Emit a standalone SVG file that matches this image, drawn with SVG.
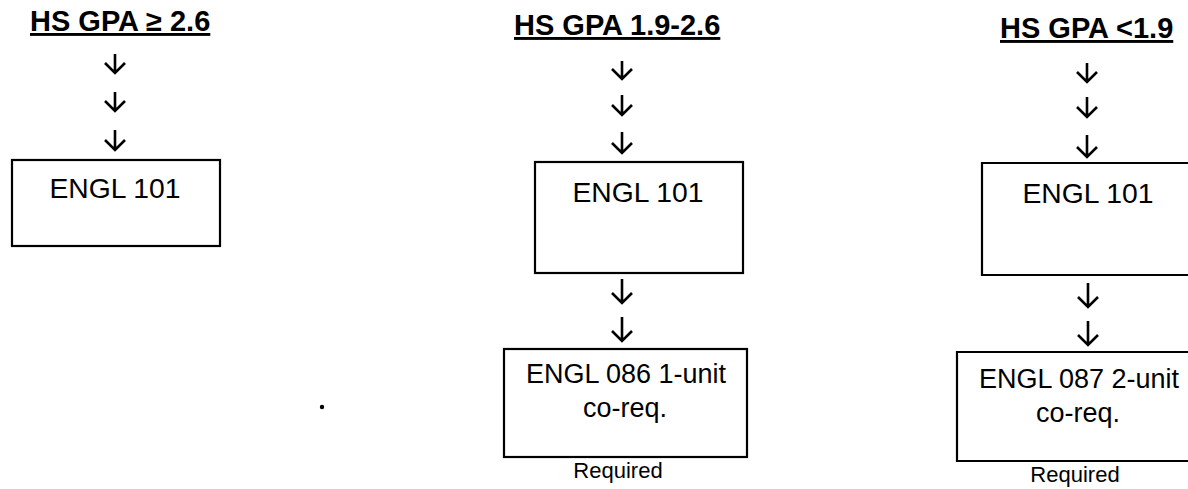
<svg xmlns="http://www.w3.org/2000/svg" width="1188" height="489" viewBox="0 0 1188 489">
<style>
.box{fill:#fff;stroke:#000;stroke-width:2.2}
.t{font-family:"Liberation Sans",Arial,sans-serif;font-size:27px;fill:#000;text-anchor:middle}
.t1{font-size:28.3px}
.h{font-family:"Liberation Sans",Arial,sans-serif;font-size:29px;font-weight:bold;fill:#000;text-decoration:underline}
.r{font-family:"Liberation Sans",Arial,sans-serif;font-size:22px;fill:#000;text-anchor:middle}
.arr{fill:none;stroke:#000;stroke-width:2.6;stroke-linejoin:miter}
</style>
<rect width="1188" height="489" fill="#fff"/>
<g id="title1"><text class="h" x="30" y="31">HS GPA ≥ 2.6</text></g>
<g id="title2"><text class="h" x="514" y="35">HS GPA 1.9-2.6</text></g>
<g id="title3"><text class="h" x="1000" y="38">HS GPA &lt;1.9</text></g>
<g id="box1"><rect class="box" x="12" y="160" width="208" height="86"/><text class="t t1" x="115" y="198">ENGL 101</text></g>
<g id="box2"><rect class="box" x="535" y="162" width="208" height="111"/><text class="t t1" x="638" y="202">ENGL 101</text></g>
<g id="box3"><path class="box" d="M1190,163 H982 V275 H1190"/><text class="t t1" x="1088" y="203">ENGL 101</text></g>
<g id="box4"><rect class="box" x="504" y="349" width="243" height="108"/><text class="t" x="626" y="383">ENGL 086 1-unit</text><text class="t" x="625" y="417">co-req.</text></g>
<g id="box5"><path class="box" d="M1190,352 H957 V461 H1190"/><text class="t" x="1079" y="388">ENGL 087 2-unit</text><text class="t" x="1078" y="422">co-req.</text></g>
<g id="label4"><text class="r" x="618" y="478">Required</text></g>
<g id="label5"><text class="r" x="1075" y="482">Required</text></g>
<g id="connectors">
<path class="arr" d="M115,54 V73 M105,63 L115,73 L125,63"/>
<path class="arr" d="M115,92 V111 M105,101 L115,111 L125,101"/>
<path class="arr" d="M115,130 V150 M105,140 L115,150 L125,140"/>
<path class="arr" d="M622,61 V79 M612,69 L622,79 L632,69"/>
<path class="arr" d="M622,95 V115 M612,105 L622,115 L632,105"/>
<path class="arr" d="M622,132 V153 M612,143 L622,153 L632,143"/>
<path class="arr" d="M1087,63 V82 M1077,72 L1087,82 L1097,72"/>
<path class="arr" d="M1087,97 V117 M1077,107 L1087,117 L1097,107"/>
<path class="arr" d="M1087,135 V157 M1077,147 L1087,157 L1097,147"/>
<path class="arr" d="M622,279 V303 M612,293 L622,303 L632,293"/>
<path class="arr" d="M622,317 V341 M612,331 L622,341 L632,331"/>
<path class="arr" d="M1088,283 V307 M1078,297 L1088,307 L1098,297"/>
<path class="arr" d="M1088,321 V345 M1078,335 L1088,345 L1098,335"/>
</g>
<circle cx="322" cy="407" r="2.2" fill="#000"/>
</svg>
